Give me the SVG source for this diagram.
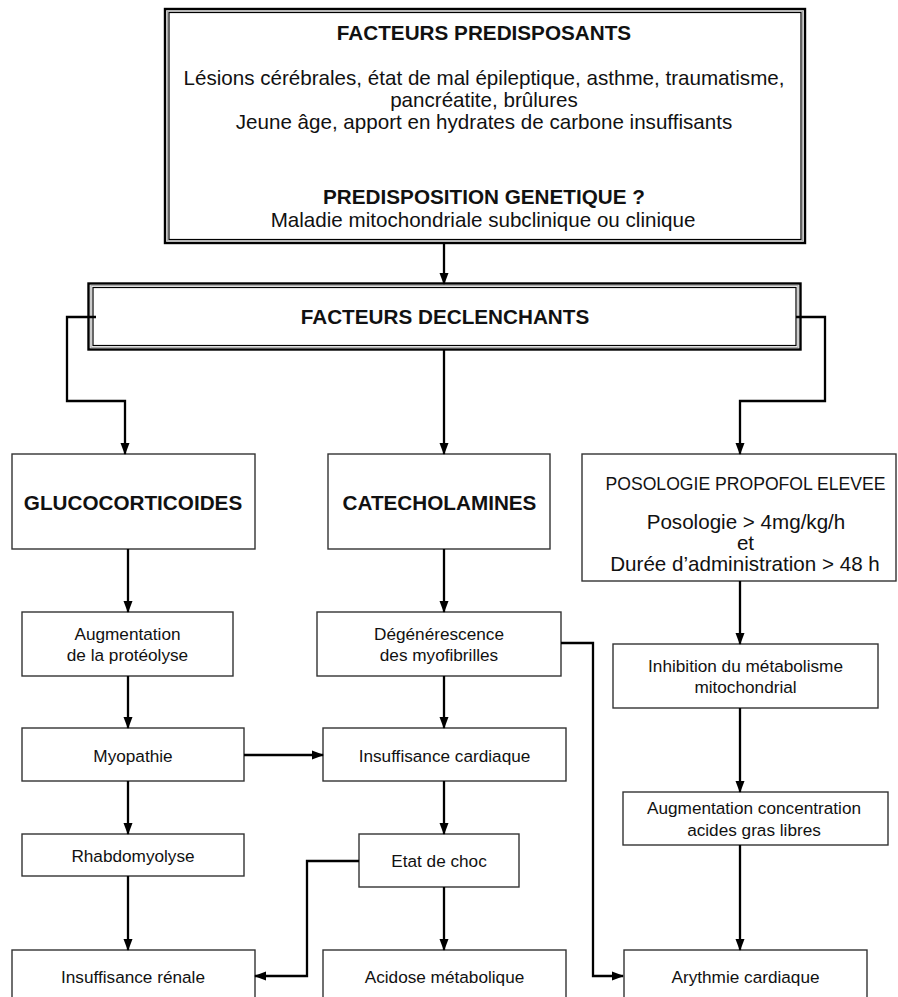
<svg xmlns="http://www.w3.org/2000/svg" width="898" height="997" viewBox="0 0 898 997">
<defs>
<marker id="arr" markerUnits="userSpaceOnUse" markerWidth="12" markerHeight="12" viewBox="0 0 12 12" refX="11" refY="6" orient="auto">
<path d="M0,1.5 L12,6 L0,10.5 z" fill="#000"/>
</marker>
<style>
text{font-family:"Liberation Sans",Arial,sans-serif;fill:#111;text-anchor:middle}
.h{font-weight:bold;font-size:20.7px}
.b{font-size:20.6px}
.s{font-size:17.2px}
.m{font-size:20.6px}
.box{fill:#fff;stroke:#333;stroke-width:1.4}
.outer{fill:#fff;stroke:#000;stroke-width:2.4}
.mid{fill:none;stroke:#aaa;stroke-width:1.2}
.inner{fill:none;stroke:#000;stroke-width:1.2}
.c{fill:none;stroke:#000;stroke-width:2.3;marker-end:url(#arr)}
</style>
</defs>

<g id="predisposants">
<rect class="outer" x="165" y="9" width="640" height="234"/>
<rect class="mid" x="167.5" y="11" width="635" height="230"/>
<rect class="inner" x="169" y="12.5" width="632" height="227"/>
<text class="h" x="484" y="40">FACTEURS PREDISPOSANTS</text>
<text class="b" x="484" y="85">Lésions cérébrales, état de mal épileptique, asthme, traumatisme,</text>
<text class="b" x="484" y="107">pancréatite, brûlures</text>
<text class="b" x="484" y="129">Jeune âge, apport en hydrates de carbone insuffisants</text>
<text class="h" x="484" y="204">PREDISPOSITION GENETIQUE ?</text>
<text class="b" x="483" y="227">Maladie mitochondriale subclinique ou clinique</text>
</g>

<g id="declenchants">
<rect class="outer" x="88.5" y="283.5" width="712" height="66"/>
<rect class="mid" x="91" y="285.5" width="707" height="62"/>
<rect class="inner" x="93" y="287.5" width="703" height="58"/>
<text class="h" x="445" y="324">FACTEURS DECLENCHANTS</text>
</g>

<g id="glucocorticoides">
<rect class="box" x="12" y="454" width="243" height="95"/>
<text class="h" x="133" y="510">GLUCOCORTICOIDES</text>
</g>
<g id="catecholamines">
<rect class="box" x="328" y="454" width="222" height="95"/>
<text class="h" x="439.5" y="510">CATECHOLAMINES</text>
</g>
<g id="propofol">
<rect class="box" x="582" y="454" width="314" height="127"/>
<text x="745.5" y="490" style="font-size:17.6px">POSOLOGIE PROPOFOL ELEVEE</text>
<text class="m" x="746" y="529">Posologie &gt; 4mg/kg/h</text>
<text class="m" x="745.5" y="550">et</text>
<text class="m" x="745" y="571">Durée d’administration &gt; 48 h</text>
</g>

<g id="proteolyse">
<rect class="box" x="22" y="612" width="211" height="64"/>
<text class="s" x="127.5" y="640">Augmentation</text>
<text class="s" x="127.5" y="661">de la protéolyse</text>
</g>
<g id="degenerescence">
<rect class="box" x="317" y="612" width="244" height="64"/>
<text class="s" x="439" y="640">Dégénérescence</text>
<text class="s" x="439" y="661">des myofibrilles</text>
</g>
<g id="inhibition">
<rect class="box" x="613" y="644" width="265" height="64"/>
<text class="s" x="745.5" y="672">Inhibition du métabolisme</text>
<text class="s" x="745.5" y="693">mitochondrial</text>
</g>

<g id="myopathie">
<rect class="box" x="22" y="728" width="222" height="53"/>
<text class="s" x="133" y="762">Myopathie</text>
</g>
<g id="insuffisance-cardiaque">
<rect class="box" x="323" y="728" width="243" height="53"/>
<text class="s" x="444.5" y="762">Insuffisance cardiaque</text>
</g>
<g id="acides-gras">
<rect class="box" x="623" y="792" width="265" height="53"/>
<text class="s" x="754" y="814">Augmentation concentration</text>
<text class="s" x="754" y="836">acides gras libres</text>
</g>

<g id="rhabdomyolyse">
<rect class="box" x="22" y="834" width="222" height="42"/>
<text class="s" x="133" y="862">Rhabdomyolyse</text>
</g>
<g id="etat-de-choc">
<rect class="box" x="359" y="834" width="160" height="53"/>
<text class="s" x="439" y="867">Etat de choc</text>
</g>

<g id="insuffisance-renale">
<rect class="box" x="12" y="950" width="243" height="60"/>
<text class="s" x="133" y="983">Insuffisance rénale</text>
</g>
<g id="acidose">
<rect class="box" x="323" y="950" width="243" height="60"/>
<text class="s" x="444.5" y="983">Acidose métabolique</text>
</g>
<g id="arythmie">
<rect class="box" x="624" y="950" width="243" height="60"/>
<text class="s" x="745.5" y="983">Arythmie cardiaque</text>
</g>

<g id="connectors">
<path class="c" d="M444,243 V284"/>
<path class="c" d="M96,317 H67 V401 H125 V454"/>
<path class="c" d="M444,350 V454"/>
<path class="c" d="M796,317 H825 V401 H740 V454"/>
<path class="c" d="M128,549 V612"/>
<path class="c" d="M444,549 V612"/>
<path class="c" d="M740,581 V644"/>
<path class="c" d="M128,676 V728"/>
<path class="c" d="M444,676 V728"/>
<path class="c" d="M561,643 H593 V976 H623"/>
<path class="c" d="M244,755 H323"/>
<path class="c" d="M740,708 V792"/>
<path class="c" d="M128,781 V834"/>
<path class="c" d="M444,781 V834"/>
<path class="c" d="M359,861 H307 V976 H255"/>
<path class="c" d="M128,876 V950"/>
<path class="c" d="M444,887 V950"/>
<path class="c" d="M740,845 V950"/>
</g>
</svg>
